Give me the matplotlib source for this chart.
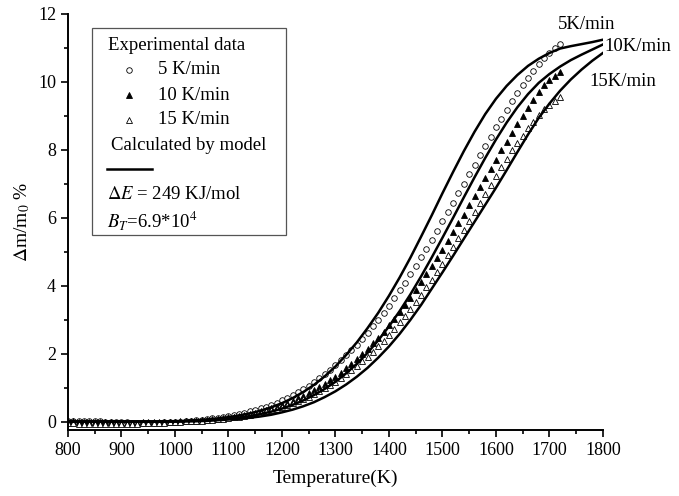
import numpy as np
import matplotlib
matplotlib.use("Agg")
import matplotlib.pyplot as plt
from matplotlib.lines import Line2D
from matplotlib.patches import Rectangle
from matplotlib.ticker import MultipleLocator

plt.rcParams['font.family'] = ['Liberation Serif', 'DejaVu Serif']
plt.rcParams['mathtext.fontset'] = 'stix'

# Experimental data (temperature grid, K)
T_exp = list(range(800, 1721, 10))

exp_5 = [0.03, 0.03, 0.02, 0.02, 0.02, 0.01, 0.01, 0.00, 0.00, -0.01,
         -0.02, -0.02, -0.03, -0.03, -0.03, -0.03, -0.03, -0.03, -0.02, -0.02,
         -0.01, 0.00, 0.01, 0.02, 0.04, 0.05, 0.07, 0.09, 0.11, 0.13,
         0.16, 0.19, 0.22, 0.26, 0.30, 0.34, 0.39, 0.44, 0.50, 0.56,
         0.63, 0.70, 0.78, 0.87, 0.96, 1.06, 1.17, 1.28, 1.40, 1.53,
         1.66, 1.80, 1.95, 2.10, 2.26, 2.43, 2.61, 2.80, 3.00, 3.20,
         3.41, 3.63, 3.86, 4.09, 4.33, 4.58, 4.83, 5.09, 5.35, 5.62,
         5.89, 6.16, 6.44, 6.72, 7.00, 7.28, 7.56, 7.84, 8.12, 8.39,
         8.66, 8.92, 9.18, 9.43, 9.67, 9.90, 10.12, 10.33, 10.52, 10.70,
         10.86, 11.00, 11.12]

exp_10 = [0.01, 0.01, 0.00, 0.00, -0.01, -0.01, -0.02, -0.02, -0.02, -0.03,
          -0.03, -0.03, -0.03, -0.03, -0.02, -0.02, -0.02, -0.02, -0.01, -0.01,
          0.00, 0.01, 0.01, 0.02, 0.03, 0.04, 0.05, 0.07, 0.08, 0.10,
          0.12, 0.14, 0.17, 0.20, 0.23, 0.26, 0.30, 0.34, 0.39, 0.44,
          0.49, 0.55, 0.61, 0.68, 0.75, 0.83, 0.92, 1.01, 1.11, 1.21,
          1.32, 1.44, 1.57, 1.70, 1.84, 1.99, 2.14, 2.30, 2.47, 2.65,
          2.84, 3.03, 3.23, 3.44, 3.65, 3.87, 4.10, 4.33, 4.57, 4.81,
          5.06, 5.31, 5.57, 5.83, 6.09, 6.36, 6.63, 6.90, 7.17, 7.44,
          7.71, 7.98, 8.24, 8.50, 8.75, 9.00, 9.24, 9.47, 9.69, 9.90,
          10.05, 10.18, 10.30]

exp_15 = [-0.05, -0.05, -0.06, -0.06, -0.06, -0.07, -0.07, -0.07, -0.07, -0.07,
          -0.07, -0.06, -0.06, -0.06, -0.05, -0.05, -0.04, -0.04, -0.03, -0.02,
          0.00, 0.00, 0.01, 0.01, 0.02, 0.03, 0.04, 0.05, 0.07, 0.08,
          0.10, 0.12, 0.14, 0.17, 0.20, 0.23, 0.26, 0.30, 0.34, 0.38,
          0.43, 0.48, 0.54, 0.60, 0.66, 0.73, 0.81, 0.89, 0.98, 1.07,
          1.17, 1.28, 1.39, 1.51, 1.64, 1.77, 1.91, 2.06, 2.22, 2.38,
          2.55, 2.73, 2.92, 3.11, 3.31, 3.52, 3.73, 3.95, 4.18, 4.41,
          4.65, 4.89, 5.14, 5.39, 5.65, 5.91, 6.17, 6.43, 6.70, 6.96,
          7.22, 7.48, 7.74, 7.98, 8.20, 8.42, 8.63, 8.83, 9.02, 9.19,
          9.33, 9.45, 9.56]

# Model curves
T_mod = list(range(800, 1801, 20))

mod_5 = [0.00, 0.00, 0.00, 0.00, 0.00, 0.00, 0.00, 0.00, 0.00, 0.00,
         0.01, 0.02, 0.04, 0.06, 0.09, 0.13, 0.18, 0.24, 0.32, 0.42,
         0.54, 0.69, 0.87, 1.08, 1.33, 1.62, 1.96, 2.33, 2.75, 3.20,
         3.70, 4.24, 4.82, 5.44, 6.07, 6.72, 7.35, 7.96, 8.53, 9.05,
         9.50, 9.88, 10.20, 10.47, 10.68, 10.85, 10.98, 11.05, 11.11, 11.17,
         11.24]

mod_10 = [0.00, 0.00, 0.00, 0.00, 0.00, 0.00, 0.00, 0.00, 0.00, 0.00,
          0.00, 0.01, 0.02, 0.04, 0.06, 0.09, 0.12, 0.16, 0.22, 0.29,
          0.38, 0.49, 0.62, 0.78, 0.96, 1.17, 1.42, 1.70, 2.02, 2.39,
          2.80, 3.25, 3.74, 4.27, 4.83, 5.41, 6.00, 6.60, 7.19, 7.76,
          8.30, 8.80, 9.25, 9.64, 9.97, 10.23, 10.45, 10.64, 10.80, 10.95,
          11.10]

mod_15 = [0.00, 0.00, 0.00, 0.00, 0.00, 0.00, 0.00, 0.00, 0.00, 0.00,
          0.00, 0.01, 0.01, 0.02, 0.04, 0.06, 0.08, 0.11, 0.15, 0.20,
          0.27, 0.35, 0.45, 0.57, 0.72, 0.89, 1.09, 1.32, 1.58, 1.88,
          2.21, 2.58, 2.99, 3.43, 3.91, 4.39, 4.88, 5.38, 5.88, 6.38,
          6.88, 7.40, 7.93, 8.45, 8.94, 9.36, 9.74, 10.07, 10.36, 10.62,
          10.85]

rate_labels = ['5K/min', '10K/min', '15K/min']

fig = plt.figure(figsize=(6.79, 4.96), dpi=100)
ax = fig.add_axes([0.100, 0.133, 0.788, 0.839])

mk = dict(linestyle='none', markersize=4, markeredgewidth=0.6, color='black')
ax.plot(T_exp, exp_5, marker='o', markerfacecolor='white', **mk)
ax.plot(T_exp, exp_10, marker='^', markerfacecolor='black', **mk)
ax.plot(T_exp, exp_15, marker='^', markerfacecolor='white', **mk)

for m in (mod_5, mod_10, mod_15):
    ax.plot(T_mod, m, color='black', lw=1.8)

ax.set_xlim(800, 1800)
ax.set_ylim(-0.25, 12)
ax.xaxis.set_major_locator(MultipleLocator(100))
ax.xaxis.set_minor_locator(MultipleLocator(50))
ax.yaxis.set_major_locator(MultipleLocator(2))
ax.yaxis.set_minor_locator(MultipleLocator(1))
ax.tick_params(which='both', direction='out', labelsize=13, width=1.2)
ax.tick_params(which='major', length=5)
ax.tick_params(which='minor', length=3)
for s in ('top', 'right'):
    ax.spines[s].set_visible(False)
for s in ('left', 'bottom'):
    ax.spines[s].set_linewidth(1.4)

ax.set_xlabel('Temperature(K)', fontsize=14, labelpad=8)
ax.set_ylabel(r'$\Delta$m/m$_0$ %', fontsize=14, labelpad=4)

# curve end labels
ax.text(1770, 11.45, rate_labels[0], fontsize=13.5, ha='center', va='bottom', clip_on=False)
ax.text(1802, 11.05, rate_labels[1], fontsize=13.5, ha='left', va='center', clip_on=False)
ax.text(1775, 10.0, rate_labels[2], fontsize=13.5, ha='left', va='center', clip_on=False)

# legend box (figure pixel coordinates -> figure fraction)
def px(x, y):
    return (x / 679.0, 1 - y / 496.0)

box_l, box_t, box_r, box_b = 92, 28, 286, 235
fig.patches.append(Rectangle(px(box_l, box_b), (box_r - box_l) / 679.0,
                             (box_b - box_t) / 496.0, transform=fig.transFigure,
                             fill=False, edgecolor='#555555', lw=0.9))
fs = 13.5
fig.text(*px(108, 45), 'Experimental data', fontsize=fs, va='center')
for yy, marker, fc, lab in [(70, 'o', 'white', '5 K/min'), (95, '^', 'black', '10 K/min'),
                            (120, '^', 'white', '15 K/min')]:
    fig.add_artist(Line2D([129 / 679.0], [1 - yy / 496.0], marker=marker, markersize=4,
                          markerfacecolor=fc, markeredgecolor='black', markeredgewidth=0.6,
                          linestyle='none', transform=fig.transFigure))
    fig.text(*px(158, yy), lab, fontsize=fs, va='center')
fig.text(*px(111, 145), 'Calculated by model', fontsize=fs, va='center')
fig.add_artist(Line2D([107 / 679.0, 152 / 679.0], [1 - 169 / 496.0] * 2, color='black',
                      lw=1.8, transform=fig.transFigure))
fig.text(*px(107, 195), r'$\it{\Delta E}$ = 249 KJ/mol', fontsize=fs, va='center')
fig.text(*px(107, 220), r'$B_T$=6.9*10$^4$', fontsize=fs, va='center')

fig.savefig('out.png', dpi=100)
